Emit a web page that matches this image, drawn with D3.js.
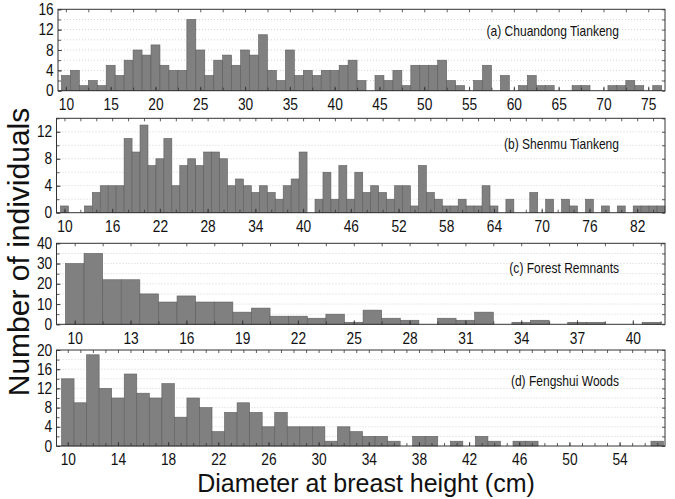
<!DOCTYPE html>
<html><head><meta charset="utf-8">
<script src="https://cdn.jsdelivr.net/npm/d3@7"></script>
<style>body{margin:0;background:#fff}</style>
</head><body><svg id="c" width="675" height="499"></svg>
<script>
// ---- data (bin counts, 1-cm DBH classes, first class centred on the given start value) ----
const startA = 10;
const countsA = [3,4,1,2,1,5,3,6,8,7,9,5,4,4,14,8,3,6,7,5,8,7,11,4,2,8,3,4,3,4,4,5,6,2,0,3,2,4,1,5,5,5,6,2,1,0,2,5,0,3,0,1,3,1,1,0,0,1,1,0,0,1,1,2,1,0,1];
const startB = 10;
const countsB = [1,0,0,1,3,4,4,4,11,9,13,7,8,11,4,7,8,7,9,9,8,4,5,4,3,4,3,2,4,5,9,0,2,6,2,7,2,6,3,4,3,2,4,4,1,7,3,2,1,1,2,1,1,4,1,0,2,0,0,3,0,2,0,2,1,0,2,0,1,0,1,0,1,1,1,1];
const startC = 10;
const countsC = [30,35,22,22,15,11,14,11,11,6,8,4,4,3,5,1,7,3,2,0,3,2,6,0,1,2,0,1,1,0,0,1];
const startD = 10;
const countsD = [14,9,19,12,10,15,11,10,13,6,10,8,3,7,9,7,4,7,4,4,4,1,4,3,2,2,1,0,2,2,0,1,0,2,1,0,1,1,0,0,0,0,0,0,0,0,0,1];

const titles = ["(a) Chuandong Tiankeng","(b) Shenmu Tiankeng","(c) Forest Remnants","(d) Fengshui Woods"];
const xTicksA = [10,15,20,25,30,35,40,45,50,55,60,65,70,75];
const xTicksB = [10,16,22,28,34,40,46,52,58,64,70,76,82];
const xTicksC = [10,13,16,19,22,25,28,31,34,37,40];
const xTicksD = [10,14,18,22,26,30,34,38,42,46,50,54];
const yTicksA = [0,4,8,12,16];
const yTicksB = [0,4,8,12];
const yTicksC = [0,10,20,30,40];
const yTicksD = [0,4,8,12,16,20];
const xTitle = "Diameter at breast height (cm)";
const yTitle = "Number of individuals";

// ---- layout ----
const SX = 0.86; // horizontal squeeze of the original tick text
const panels = [
  {title:titles[0], start:startA, counts:countsA, xd:[9.12,76.87], xt:xTicksA, xm:2.5, ymax:16, yt:yTicksA, ym:2, l:58, r:665, t:9.3, b:90.7, ty:35.5},
  {title:titles[1], start:startB, counts:countsB, xd:[9.0,85.5], xt:xTicksB, xm:2, ymax:14, yt:yTicksB, ym:2, l:56.5, r:665, t:118.3, b:212.7, ty:148.5},
  {title:titles[2], start:startC, counts:countsC, xd:[9.02,41.73], xt:xTicksC, xm:1.5, ymax:40, yt:yTicksC, ym:5, l:56.5, r:665, t:243.3, b:324.3, ty:272.5},
  {title:titles[3], start:startD, counts:countsD, xd:[9.1,57.62], xt:xTicksD, xm:1, ymax:20, yt:yTicksD, ym:2, l:56.5, r:665, t:350, b:446, ty:385.5}
];

const svg = d3.select("#c");
const font = "Arial, 'Liberation Sans', sans-serif";

panels.forEach(p => {
  const x = d3.scaleLinear().domain(p.xd).range([p.l, p.r]);
  const y = d3.scaleLinear().domain([0, p.ymax]).range([p.b, p.t]);
  const g = svg.append("g");

  // grid
  const gridVals = d3.range(p.ym, p.ymax, p.ym);
  g.selectAll("line.grid").data(gridVals).join("line")
    .attr("x1", p.l).attr("x2", p.r)
    .attr("y1", d => y(d)).attr("y2", d => y(d))
    .attr("stroke", "#c8c8c8").attr("stroke-width", 0.8)
    .attr("stroke-dasharray", "1,2");

  // bars
  const data = p.counts.map((v, i) => ({c: p.start + i, v}));
  g.selectAll("rect.bar").data(data.filter(d => d.v > 0)).join("rect")
    .attr("x", d => x(d.c - 0.5))
    .attr("width", d => x(d.c + 0.5) - x(d.c - 0.5))
    .attr("y", d => y(d.v))
    .attr("height", d => y(0) - y(d.v))
    .attr("fill", "#808080")
    .attr("stroke", "#5e5e5e").attr("stroke-width", 0.6);

  // minor ticks
  const xMinor = d3.range(p.xt[0], p.xd[1], p.xm).filter(v => v > p.xd[0]);
  const yMinor = d3.range(0, p.ymax + 0.001, p.ym);
  g.append("g").attr("transform", `translate(0,${p.b})`).call(d3.axisBottom(x).tickValues(xMinor).tickSize(-3).tickFormat(""));
  g.append("g").attr("transform", `translate(0,${p.t})`).call(d3.axisTop(x).tickValues(xMinor).tickSize(-3).tickFormat(""));
  g.append("g").attr("transform", `translate(${p.l},0)`).call(d3.axisLeft(y).tickValues(yMinor).tickSize(-3).tickFormat(""));
  g.append("g").attr("transform", `translate(${p.r},0)`).call(d3.axisRight(y).tickValues(yMinor).tickSize(-3).tickFormat(""));

  // major axes with labels
  const ax = g.append("g").attr("transform", `translate(0,${p.b})`)
    .call(d3.axisBottom(x).tickValues(p.xt).tickSize(-4).tickPadding(8).tickFormat(d3.format("d")));
  const ay = g.append("g").attr("transform", `translate(${p.l},0)`)
    .call(d3.axisLeft(y).tickValues(p.yt).tickSize(-4).tickPadding(5).tickFormat(d3.format("d")));
  [ax, ay].forEach(a => {
    a.selectAll("text").attr("font-size", 16).attr("font-family", font).attr("fill", "#111")
      .attr("transform", `scale(${SX},1)`);
  });

  g.selectAll(".domain").remove();
  g.selectAll(".tick line").attr("stroke", "#333").attr("stroke-width", 0.8);

  // frame
  g.append("rect").attr("x", p.l).attr("y", p.t)
    .attr("width", p.r - p.l).attr("height", p.b - p.t)
    .attr("fill", "none").attr("stroke", "#333").attr("stroke-width", 1);

  // panel title
  g.append("text").text(p.title)
    .attr("transform", `translate(619,${p.ty}) scale(${SX},1)`)
    .attr("text-anchor", "end").attr("font-size", 14).attr("font-family", font).attr("fill", "#111");
});

svg.append("text").text(xTitle)
  .attr("x", 366).attr("y", 492)
  .attr("text-anchor", "middle").attr("font-size", 25).attr("font-family", font).attr("fill", "#111");

svg.append("text").text(yTitle)
  .attr("transform", `translate(29,252) rotate(-90)`)
  .attr("text-anchor", "middle").attr("font-size", 30).attr("font-family", font).attr("fill", "#111");
</script></body></html>
